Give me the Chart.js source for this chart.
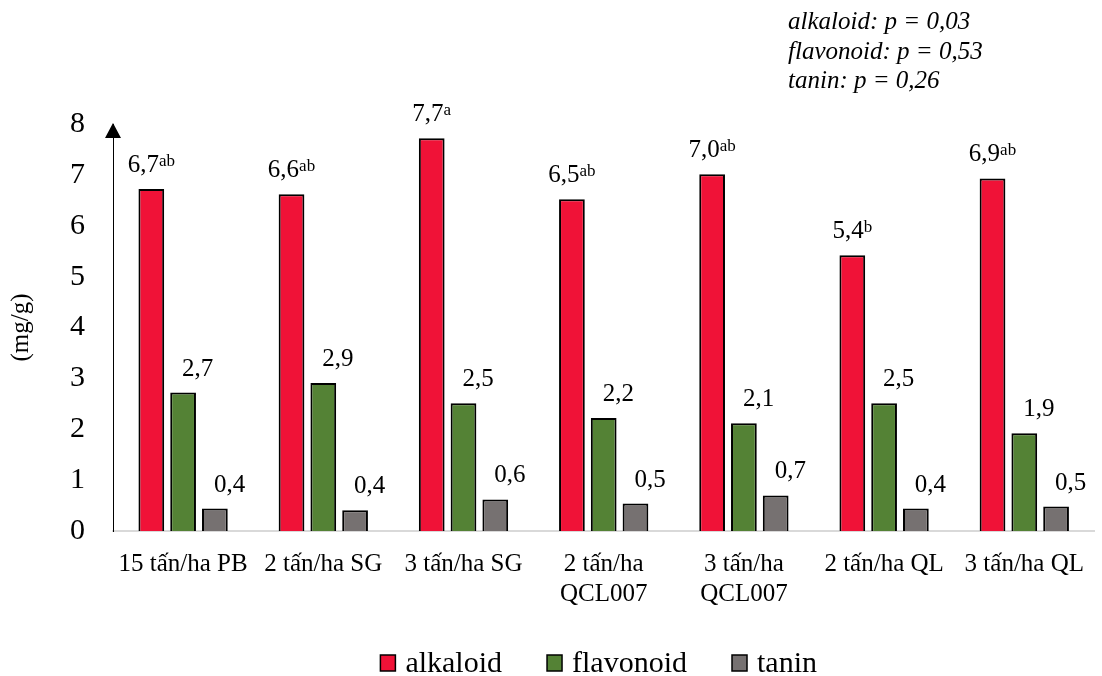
<!DOCTYPE html>
<html>
<head>
<meta charset="utf-8">
<script src="https://cdn.jsdelivr.net/npm/chart.js@4"></script>
<style>
  html, body { margin: 0; padding: 0; background: #fff; overflow: hidden; }
  #wrap { width: 1102px; height: 676px; }
</style>
</head>
<body>
<div id="wrap"><canvas id="chart" width="1102" height="676"></canvas></div>
<script>
// Data
const categories = [
    '15 tấn/ha PB',
    '2 tấn/ha SG',
    '3 tấn/ha SG',
    ['2 tấn/ha', 'QCL007'],
    ['3 tấn/ha', 'QCL007'],
    '2 tấn/ha QL',
    '3 tấn/ha QL'
];
const alkaloid = [6.72, 6.62, 7.72, 6.52, 7.01, 5.42, 6.93];
const flavonoid = [2.72, 2.91, 2.51, 2.22, 2.12, 2.51, 1.92];
const tanin = [0.44, 0.41, 0.62, 0.54, 0.70, 0.44, 0.48];
const alkaloidLetters = ['ab', 'ab', 'a', 'ab', 'ab', 'b', 'ab'];
const pNotes = ['alkaloid: p = 0,03', 'flavonoid: p = 0,53', 'tanin: p = 0,26'];
const yTicks = [0, 1, 2, 3, 4, 5, 6, 7, 8];

const SERIF = '"Liberation Serif", "Times New Roman", serif';

function fmt(v) {
    return v.toFixed(1).replace('.', ',');
}

// Value labels above the bars (alkaloid gets superscript letters)
const valueLabels = {
    id: 'valueLabels',
    afterDatasetsDraw(chart) {
        const ctx = chart.ctx;
        ctx.save();
        ctx.fillStyle = '#000';
        ctx.textBaseline = 'alphabetic';
        chart.data.datasets.forEach((ds, di) => {
            const meta = chart.getDatasetMeta(di);
            meta.data.forEach((bar, i) => {
                const txt = fmt(ds.data[i]);
                const y = bar.y - 17;
                if (di === 0) {
                    const sup = alkaloidLetters[i];
                    ctx.font = '25px ' + SERIF;
                    const w1 = ctx.measureText(txt).width;
                    ctx.font = '17px ' + SERIF;
                    const w2 = ctx.measureText(sup).width;
                    const x0 = bar.x - (w1 + w2) / 2;
                    ctx.textAlign = 'left';
                    ctx.font = '25px ' + SERIF;
                    ctx.fillText(txt, x0, y);
                    ctx.font = '17px ' + SERIF;
                    ctx.fillText(sup, x0 + w1, y - 6);
                } else {
                    ctx.textAlign = 'left';
                    ctx.font = '25px ' + SERIF;
                    ctx.fillText(txt, bar.x - 1, y);
                }
            });
        });
        ctx.restore();
    }
};

// Arrow head on top of the y axis
const axisArrow = {
    id: 'axisArrow',
    afterDraw(chart) {
        const { ctx, chartArea } = chart;
        const x = chartArea.left;
        const top = chartArea.top - 1;
        ctx.save();
        ctx.fillStyle = '#000';
        ctx.beginPath();
        ctx.moveTo(x, top);
        ctx.lineTo(x - 8, top + 15);
        ctx.lineTo(x + 8, top + 15);
        ctx.closePath();
        ctx.fill();
        ctx.restore();
    }
};

// p-value notes, top right
const pNotesPlugin = {
    id: 'pNotes',
    afterDraw(chart) {
        const ctx = chart.ctx;
        ctx.save();
        ctx.fillStyle = '#000';
        ctx.font = 'italic 25px ' + SERIF;
        ctx.textAlign = 'left';
        ctx.textBaseline = 'alphabetic';
        pNotes.forEach((t, i) => ctx.fillText(t, 788, 29 + i * 29.5));
        ctx.restore();
    }
};

// Legend drawn by hand so the box/text spacing matches
const bottomLegend = {
    id: 'bottomLegend',
    afterDraw(chart) {
        const { ctx, chartArea } = chart;
        const boxW = 15, boxH = 16, boxGap = 10, itemGap = 45;
        ctx.save();
        ctx.font = '30px ' + SERIF;
        const items = chart.data.datasets.map(ds => ({
            label: ds.label,
            color: ds.backgroundColor,
            w: ctx.measureText(ds.label).width
        }));
        let total = 0;
        items.forEach((it, i) => {
            total += boxW + boxGap + it.w + (i < items.length - 1 ? itemGap : 0);
        });
        let x = (chartArea.left + chartArea.right) / 2 - total / 2 - 5;
        const cy = 663;
        items.forEach(it => {
            ctx.fillStyle = it.color;
            ctx.fillRect(x, cy - boxH / 2, boxW, boxH);
            ctx.strokeStyle = '#000';
            ctx.lineWidth = 1.5;
            ctx.strokeRect(x, cy - boxH / 2, boxW, boxH);
            ctx.fillStyle = '#000';
            ctx.textAlign = 'left';
            ctx.textBaseline = 'alphabetic';
            ctx.fillText(it.label, x + boxW + boxGap, cy + 9);
            x += boxW + boxGap + it.w + itemGap;
        });
        ctx.restore();
    }
};

const barStyle = {
    borderColor: '#000',
    borderWidth: 2,
    borderSkipped: 'bottom',
    categoryPercentage: 0.68,
    barPercentage: 0.81
};

new Chart(document.getElementById('chart'), {
    type: 'bar',
    data: {
        labels: categories,
        datasets: [
            { label: 'alkaloid', data: alkaloid, backgroundColor: '#F01237', ...barStyle },
            { label: 'flavonoid', data: flavonoid, backgroundColor: '#548235', ...barStyle },
            { label: 'tanin', data: tanin, backgroundColor: '#767171', ...barStyle }
        ]
    },
    options: {
        responsive: false,
        animation: false,
        devicePixelRatio: 1,
        layout: { padding: { top: 124, right: 0, bottom: 0, left: 0 } },
        plugins: {
            legend: { display: false },
            tooltip: { enabled: false }
        },
        scales: {
            x: {
                grid: { display: false, drawTicks: false },
                border: { display: true, color: '#D9D9D9', width: 2 },
                ticks: {
                    color: '#000',
                    font: { family: SERIF, size: 25 },
                    padding: 18,
                    autoSkip: false,
                    maxRotation: 0,
                    minRotation: 0
                },
                afterFit(scale) { scale.height = 145; }
            },
            y: {
                min: 0,
                max: 8,
                afterBuildTicks(scale) {
                    scale.ticks = yTicks.map(v => ({ value: v }));
                },
                grid: { display: false, drawTicks: false },
                border: { display: true, color: '#000', width: 1 },
                ticks: {
                    color: '#000',
                    font: { family: SERIF, size: 30 },
                    padding: 28
                },
                title: {
                    display: true,
                    text: '(mg/g)',
                    color: '#000',
                    font: { family: SERIF, size: 25 },
                    padding: { top: 6, bottom: 0 }
                },
                afterFit(scale) { scale.width = 113; }
            }
        }
    },
    plugins: [valueLabels, axisArrow, pNotesPlugin, bottomLegend]
});
</script>
</body>
</html>
